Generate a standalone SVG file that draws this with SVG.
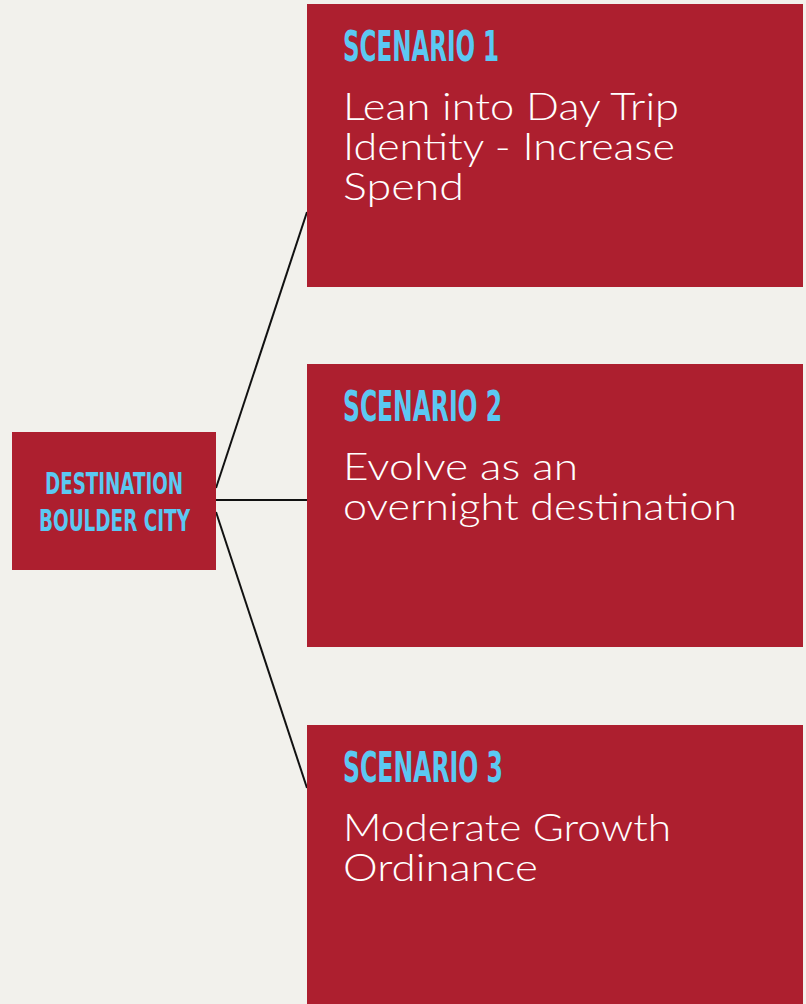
<svg xmlns="http://www.w3.org/2000/svg" width="806" height="1004" viewBox="0 0 806 1004">
<style>
.box{fill:#ad1f2f}
.title{fill:#5bc8f2;font-family:"Liberation Sans Narrow","DejaVu Sans Condensed","Liberation Sans",sans-serif;font-weight:bold}
.body{fill:#ffffff;font-family:Lato,"Open Sans",sans-serif;font-weight:300;font-size:38px}
.conn{stroke:#111;stroke-width:2;fill:none}
</style>
<rect width="806" height="1004" fill="#f2f1ec"/>
<g id="connectors">
<line class="conn" x1="216" y1="488" x2="307" y2="212"/>
<line class="conn" x1="216" y1="500" x2="307" y2="500"/>
<line class="conn" x1="216" y1="512" x2="307" y2="788"/>
</g>
<g id="destination">
<rect class="box" x="12" y="432" width="204" height="138"/>
<text class="title" x="45" y="494" font-size="31" textLength="138" lengthAdjust="spacingAndGlyphs">DESTINATION</text>
<text class="title" x="39" y="531" font-size="31" textLength="151" lengthAdjust="spacingAndGlyphs">BOULDER CITY</text>
</g>
<g id="scenario1">
<rect class="box" x="307" y="4" width="496" height="283"/>
<text class="title" x="343" y="61" font-size="43" textLength="156" lengthAdjust="spacingAndGlyphs">SCENARIO 1</text>
<text class="body" x="343" y="120" textLength="336" lengthAdjust="spacingAndGlyphs">Lean into Day Trip</text>
<text class="body" x="343" y="160" textLength="332" lengthAdjust="spacingAndGlyphs">Identity - Increase</text>
<text class="body" x="343" y="200" textLength="121" lengthAdjust="spacingAndGlyphs">Spend</text>
</g>
<g id="scenario2">
<rect class="box" x="307" y="364" width="496" height="283"/>
<text class="title" x="343" y="421" font-size="43" textLength="159" lengthAdjust="spacingAndGlyphs">SCENARIO 2</text>
<text class="body" x="343" y="480" textLength="235" lengthAdjust="spacingAndGlyphs">Evolve as an</text>
<text class="body" x="343" y="520" textLength="394" lengthAdjust="spacingAndGlyphs">overnight destination</text>
</g>
<g id="scenario3">
<rect class="box" x="307" y="725" width="496" height="283"/>
<text class="title" x="343" y="782" font-size="43" textLength="160" lengthAdjust="spacingAndGlyphs">SCENARIO 3</text>
<text class="body" x="343" y="841" textLength="328" lengthAdjust="spacingAndGlyphs">Moderate Growth</text>
<text class="body" x="343" y="881" textLength="195" lengthAdjust="spacingAndGlyphs">Ordinance</text>
</g>
</svg>
